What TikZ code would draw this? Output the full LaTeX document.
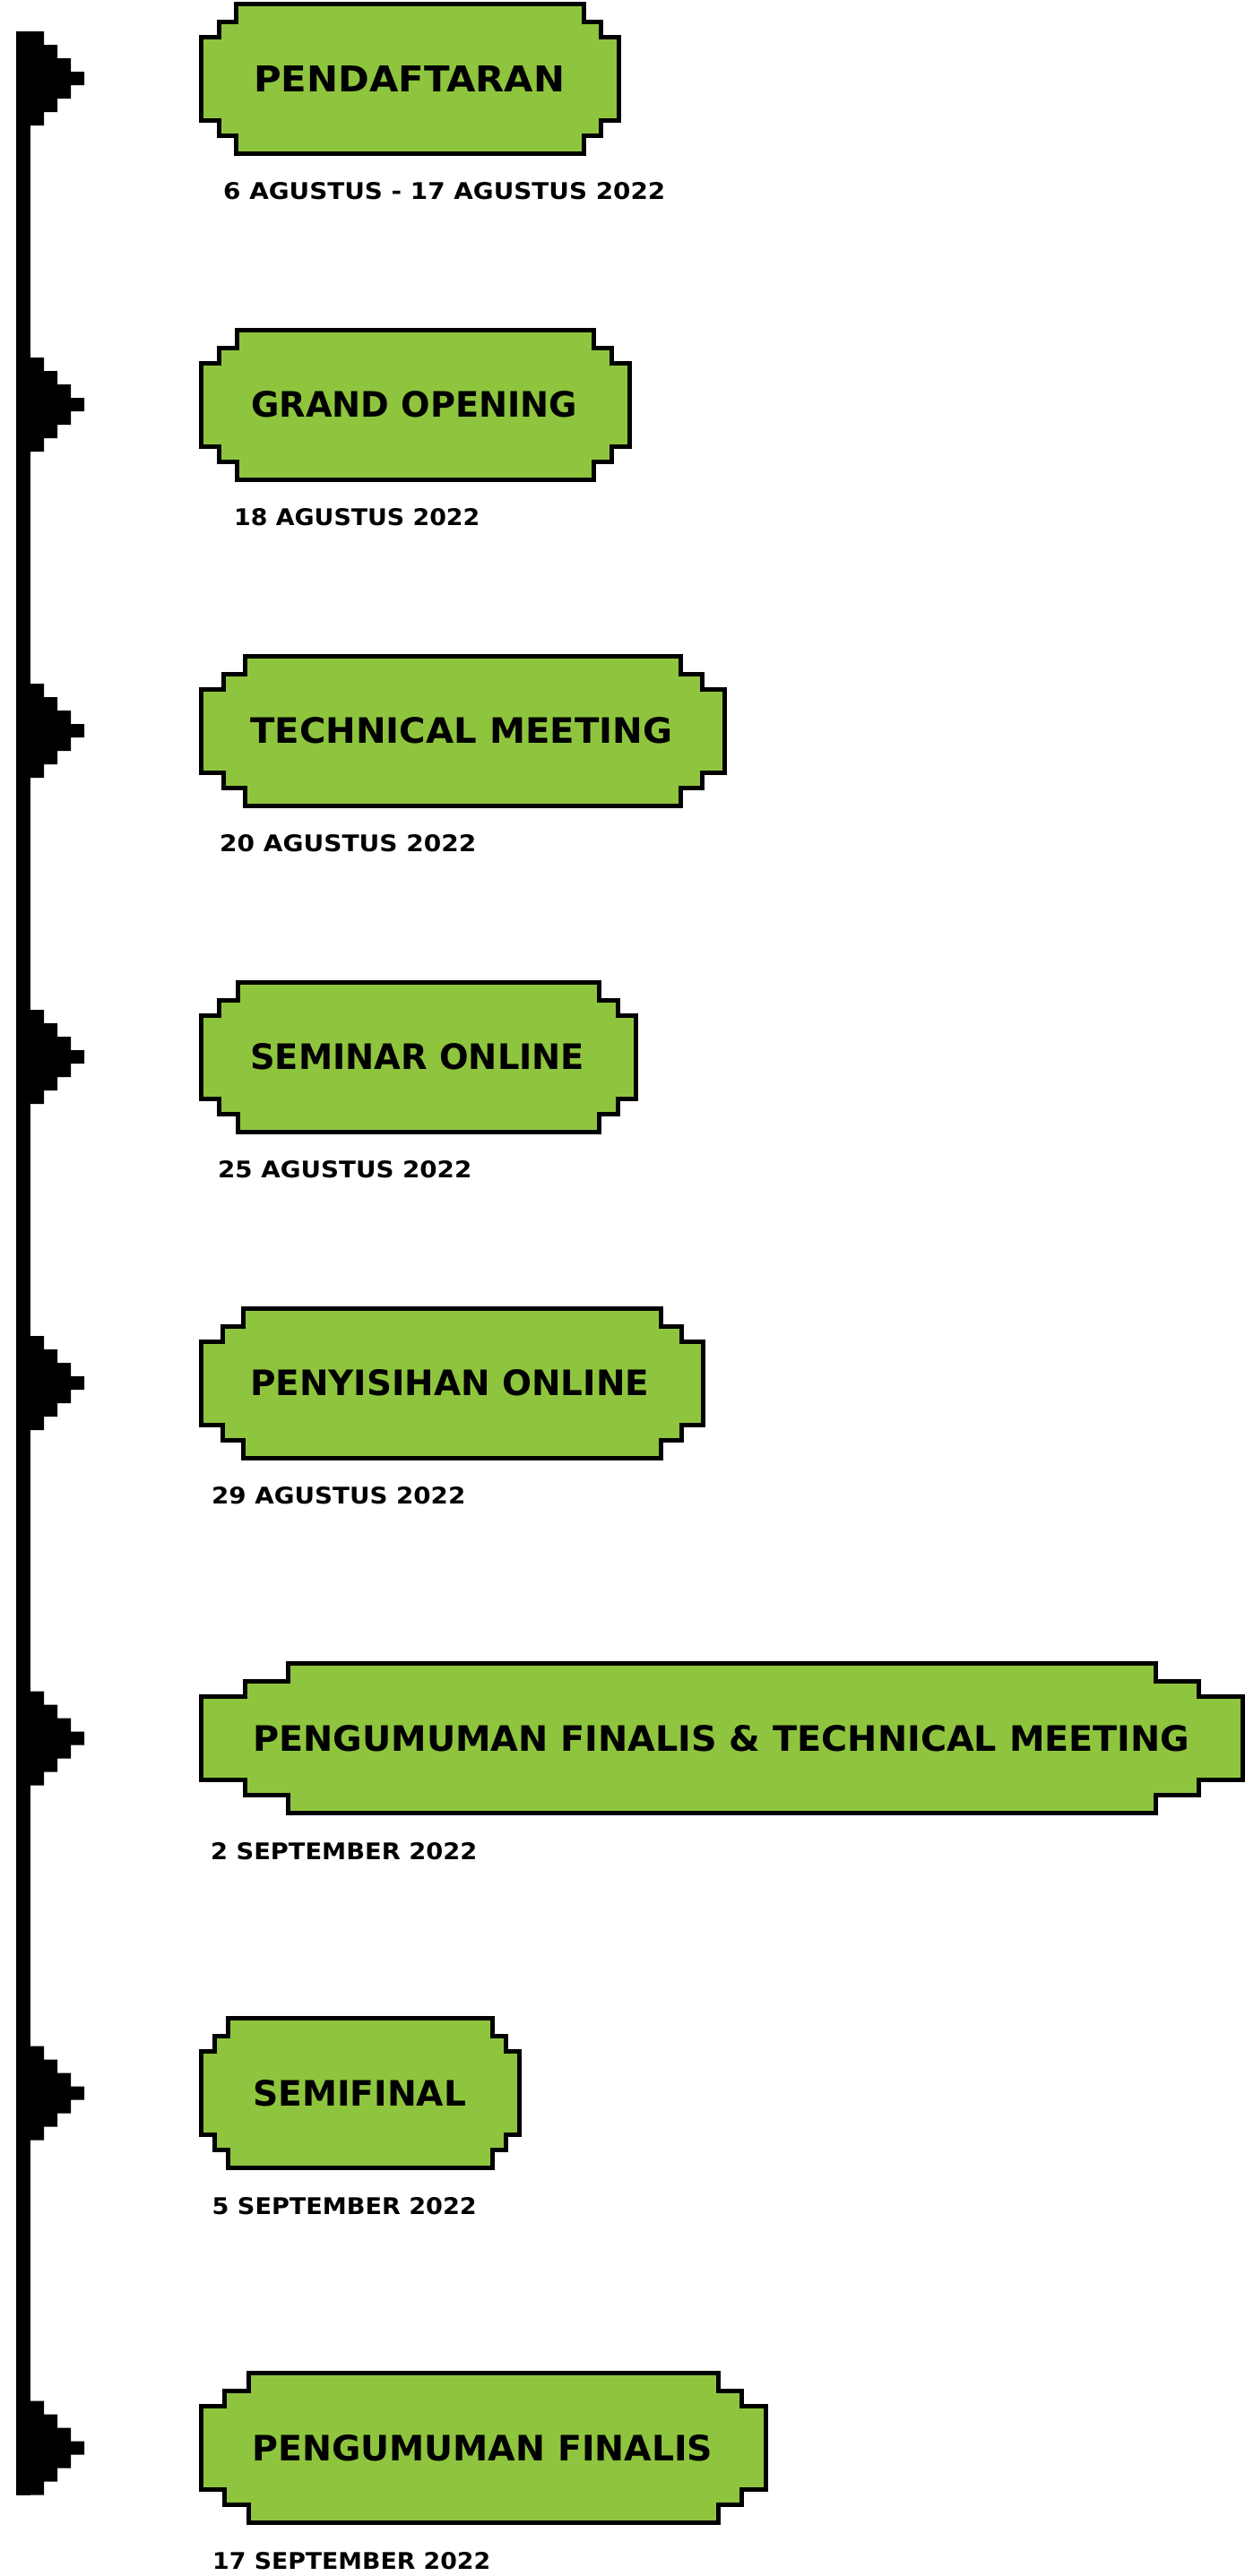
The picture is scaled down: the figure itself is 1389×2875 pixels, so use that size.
\documentclass[tikz,border=0pt]{standalone}
\usepackage{fontspec}
\setmainfont{DejaVu Sans}
\usepackage{graphicx}
\definecolor{boxgreen}{RGB}{143,197,62}
\tikzset{
  pixframe/.style={draw=black, fill=boxgreen, line width=5pt, line join=miter},
  tlmarker/.style={fill=black},
  tltitle/.style={anchor=west, inner sep=0pt, font=\bfseries},
  tldate/.style={anchor=west, inner sep=0pt, font=\bfseries},
}
% #1 = vertical centre, #2 = outer right edge
\newcommand\pixbox[2]{%
  \pgfmathsetmacro\pbxl{224.5}%
  \pgfmathsetmacro\pbxr{#2-2.5}%
  \pgfmathsetmacro\pbst{(#2-222)/24}%
  \pgfmathsetmacro\pbyt{#1-83.5}%
  \pgfmathsetmacro\pbyb{#1+83.5}%
  \draw[pixframe]
    (\pbxl+2*\pbst,\pbyt) -- (\pbxr-2*\pbst,\pbyt) -- (\pbxr-2*\pbst,\pbyt+20)
    -- (\pbxr-\pbst,\pbyt+20) -- (\pbxr-\pbst,\pbyt+37) -- (\pbxr,\pbyt+37)
    -- (\pbxr,\pbyb-37) -- (\pbxr-\pbst,\pbyb-37) -- (\pbxr-\pbst,\pbyb-20)
    -- (\pbxr-2*\pbst,\pbyb-20) -- (\pbxr-2*\pbst,\pbyb) -- (\pbxl+2*\pbst,\pbyb)
    -- (\pbxl+2*\pbst,\pbyb-20) -- (\pbxl+\pbst,\pbyb-20) -- (\pbxl+\pbst,\pbyb-37)
    -- (\pbxl,\pbyb-37) -- (\pbxl,\pbyt+37) -- (\pbxl+\pbst,\pbyt+37)
    -- (\pbxl+\pbst,\pbyt+20) -- (\pbxl+2*\pbst,\pbyt+20) -- cycle;
}
% stepped marker on the timeline, #1 = vertical centre
\newcommand\tlmark[1]{%
  \fill[tlmarker] (33,#1-52.5) -- (49,#1-52.5) -- (49,#1-37.5) -- (64,#1-37.5)
    -- (64,#1-22.5) -- (79,#1-22.5) -- (79,#1-7.5) -- (94,#1-7.5)
    -- (94,#1+7.5) -- (79,#1+7.5) -- (79,#1+22.5) -- (64,#1+22.5)
    -- (64,#1+37.5) -- (49,#1+37.5) -- (49,#1+52.5) -- (33,#1+52.5) -- cycle;
}
\begin{document}
\begin{tikzpicture}[x=1pt,y=-1pt]
\useasboundingbox (0,0) rectangle (1389,2875);

% timeline bar
\coordinate (bartop) at (18,35);
\coordinate (barbot) at (34,2784.5);
\fill[tlmarker] (bartop) rectangle (barbot);

% markers
\tlmark{87.5}
\tlmark{451.5}
\tlmark{815.5}
\tlmark{1179.5}
\tlmark{1543.5}
\tlmark{1940}
\tlmark{2336}
\tlmark{2732}

% boxes
\pixbox{87.5}{693}
\pixbox{451.5}{705}
\pixbox{815.5}{811}
\pixbox{1179.5}{712}
\pixbox{1543.5}{787}
\pixbox{1940}{1389}
\pixbox{2336}{582}
\pixbox{2732}{856.5}

% titles
\node[tltitle] (t1) at (283,87.5)   {\resizebox{347pt}{29pt}{PENDAFTARAN}};
\node[tltitle] (t2) at (280,451.5)  {\resizebox{364pt}{29pt}{GRAND OPENING}};
\node[tltitle] (t3) at (279,815.5)  {\resizebox{471pt}{29pt}{TECHNICAL MEETING}};
\node[tltitle] (t4) at (279,1179.5) {\resizebox{373pt}{29pt}{SEMINAR ONLINE}};
\node[tltitle] (t5) at (279,1543.5) {\resizebox{445pt}{29pt}{PENYISIHAN ONLINE}};
\node[tltitle] (t6) at (282,1940)   {\resizebox{1045pt}{29pt}{PENGUMUMAN FINALIS \& TECHNICAL MEETING}};
\node[tltitle] (t7) at (282,2336)   {\resizebox{238pt}{29pt}{SEMIFINAL}};
\node[tltitle] (t8) at (281,2732)   {\resizebox{514pt}{29pt}{PENGUMUMAN FINALIS}};

% dates
\node[tldate] (d1) at (249,213.5)   {\resizebox{493pt}{19pt}{6 AGUSTUS - 17 AGUSTUS 2022}};
\node[tldate] (d2) at (261,577.5)   {\resizebox{274pt}{19pt}{18 AGUSTUS 2022}};
\node[tldate] (d3) at (245,941.5)   {\resizebox{286pt}{19pt}{20 AGUSTUS 2022}};
\node[tldate] (d4) at (243,1305.5)  {\resizebox{283pt}{19pt}{25 AGUSTUS 2022}};
\node[tldate] (d5) at (236,1669.5)  {\resizebox{283pt}{19pt}{29 AGUSTUS 2022}};
\node[tldate] (d6) at (235,2066)    {\resizebox{297pt}{19pt}{2 SEPTEMBER 2022}};
\node[tldate] (d7) at (236.5,2462)  {\resizebox{295pt}{19pt}{5 SEPTEMBER 2022}};
\node[tldate] (d8) at (237,2858)    {\resizebox{310pt}{19pt}{17 SEPTEMBER 2022}};
\end{tikzpicture}
\end{document}
